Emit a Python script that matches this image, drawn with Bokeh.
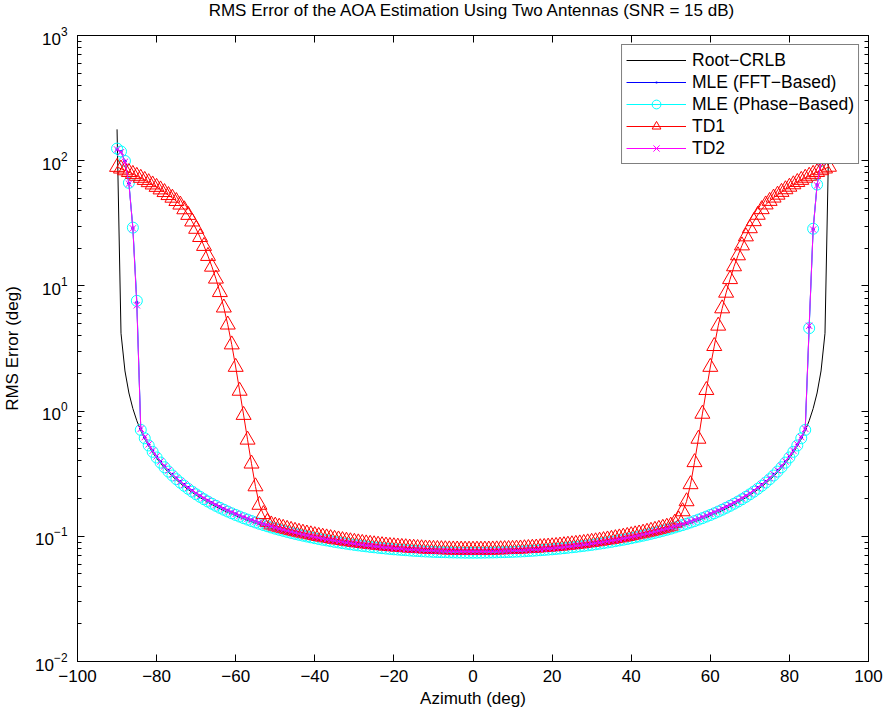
from bokeh.plotting import figure
from bokeh.models import (Range1d, LinearAxis, LogAxis, FixedTicker,
                          CustomJSTickFormatter, LogTickFormatter)
from bokeh.embed import file_html
from bokeh.resources import INLINE

FONT = "Liberation Sans"
TITLE = "RMS Error of the AOA Estimation Using Two Antennas (SNR = 15 dB)"

azimuth = list(range(-90, 91))
x_ticks = [-100, -80, -60, -40, -20, 0, 20, 40, 60, 80, 100]
y_major = [1e-2, 1e-1, 1e0, 1e1, 1e2, 1e3]
y_minor = [m * d for d in [1e-2, 1e-1, 1e0, 1e1, 1e2] for m in range(2, 10)]

root_crlb = [
    178.0, 4.183, 2.092, 1.395, 1.047, 0.8376, 0.6984, 0.5990, 0.5245, 0.4667,
    0.4204, 0.3826, 0.3511, 0.3245, 0.3018, 0.2821, 0.2648, 0.2497, 0.2362, 0.2242,
    0.2134, 0.2037, 0.1949, 0.1868, 0.1795, 0.1727, 0.1665, 0.1608, 0.1555, 0.1506,
    0.1460, 0.1417, 0.1378, 0.1340, 0.1305, 0.1273, 0.1242, 0.1213, 0.1186, 0.1160,
    0.1136, 0.1113, 0.1091, 0.1070, 0.1051, 0.1032, 0.1015, 0.0998, 0.0982, 0.0967,
    0.0953, 0.0939, 0.0926, 0.0914, 0.0902, 0.0891, 0.0881, 0.0870, 0.0861, 0.0852,
    0.0843, 0.0835, 0.0827, 0.0819, 0.0812, 0.0805, 0.0799, 0.0793, 0.0787, 0.0782,
    0.0777, 0.0772, 0.0768, 0.0763, 0.0759, 0.0756, 0.0752, 0.0749, 0.0746, 0.0744,
    0.0741, 0.0739, 0.0737, 0.0735, 0.0734, 0.0733, 0.0732, 0.0731, 0.0730, 0.0730,
    0.0730, 0.0730, 0.0730, 0.0731, 0.0732, 0.0733, 0.0734, 0.0735, 0.0737, 0.0739,
    0.0741, 0.0744, 0.0746, 0.0749, 0.0752, 0.0756, 0.0759, 0.0763, 0.0768, 0.0772,
    0.0777, 0.0782, 0.0787, 0.0793, 0.0799, 0.0805, 0.0812, 0.0819, 0.0827, 0.0835,
    0.0843, 0.0852, 0.0861, 0.0870, 0.0881, 0.0891, 0.0902, 0.0914, 0.0926, 0.0939,
    0.0953, 0.0967, 0.0982, 0.0998, 0.1015, 0.1032, 0.1051, 0.1070, 0.1091, 0.1113,
    0.1136, 0.1160, 0.1186, 0.1213, 0.1242, 0.1273, 0.1305, 0.1340, 0.1378, 0.1417,
    0.1460, 0.1506, 0.1555, 0.1608, 0.1665, 0.1727, 0.1795, 0.1868, 0.1949, 0.2037,
    0.2134, 0.2242, 0.2362, 0.2497, 0.2648, 0.2821, 0.3018, 0.3245, 0.3511, 0.3826,
    0.4204, 0.4667, 0.5245, 0.5990, 0.6984, 0.8376, 1.047, 1.395, 2.092, 4.183,
    178.0,
]

mle_fft = [
    124.0, 118.0, 99.0, 66.0, 29.0, 7.4, 0.7223, 0.6195, 0.5425, 0.4826,
    0.4348, 0.3957, 0.3631, 0.3356, 0.3121, 0.2917, 0.2739, 0.2582, 0.2443, 0.2319,
    0.2207, 0.2107, 0.2015, 0.1932, 0.1856, 0.1786, 0.1722, 0.1663, 0.1608, 0.1557,
    0.1510, 0.1466, 0.1425, 0.1386, 0.1350, 0.1316, 0.1284, 0.1255, 0.1226, 0.1200,
    0.1175, 0.1151, 0.1128, 0.1107, 0.1087, 0.1068, 0.1050, 0.1032, 0.1016, 0.1000,
    0.0986, 0.0972, 0.0958, 0.0945, 0.0933, 0.0922, 0.0911, 0.0900, 0.0890, 0.0881,
    0.0872, 0.0863, 0.0855, 0.0847, 0.0840, 0.0833, 0.0826, 0.0820, 0.0814, 0.0809,
    0.0803, 0.0798, 0.0794, 0.0789, 0.0785, 0.0782, 0.0778, 0.0775, 0.0772, 0.0769,
    0.0767, 0.0764, 0.0762, 0.0761, 0.0759, 0.0758, 0.0757, 0.0756, 0.0755, 0.0755,
    0.0755, 0.0755, 0.0755, 0.0756, 0.0757, 0.0758, 0.0759, 0.0761, 0.0762, 0.0764,
    0.0767, 0.0769, 0.0772, 0.0775, 0.0778, 0.0782, 0.0785, 0.0789, 0.0794, 0.0798,
    0.0803, 0.0809, 0.0814, 0.0820, 0.0826, 0.0833, 0.0840, 0.0847, 0.0855, 0.0863,
    0.0872, 0.0881, 0.0890, 0.0900, 0.0911, 0.0922, 0.0933, 0.0945, 0.0958, 0.0972,
    0.0986, 0.1000, 0.1016, 0.1032, 0.1050, 0.1068, 0.1087, 0.1107, 0.1128, 0.1151,
    0.1175, 0.1200, 0.1226, 0.1255, 0.1284, 0.1316, 0.1350, 0.1386, 0.1425, 0.1466,
    0.1510, 0.1557, 0.1608, 0.1663, 0.1722, 0.1786, 0.1856, 0.1932, 0.2015, 0.2107,
    0.2207, 0.2319, 0.2443, 0.2582, 0.2739, 0.2917, 0.3121, 0.3356, 0.3631, 0.3957,
    0.4348, 0.4826, 0.5425, 0.6195, 0.7223, 4.7, 28.4, 64.0, 99.0, 116.0,
    122.0,
]

mle_phase = [
    125.0, 118.5, 99.5, 66.5, 29.2, 7.6, 0.7079, 0.6072, 0.5317, 0.4730,
    0.4262, 0.3878, 0.3559, 0.3290, 0.3059, 0.2859, 0.2685, 0.2531, 0.2395, 0.2273,
    0.2164, 0.2065, 0.1975, 0.1894, 0.1819, 0.1751, 0.1688, 0.1630, 0.1576, 0.1526,
    0.1480, 0.1437, 0.1396, 0.1359, 0.1323, 0.1290, 0.1259, 0.1230, 0.1202, 0.1176,
    0.1151, 0.1128, 0.1106, 0.1085, 0.1065, 0.1047, 0.1029, 0.1012, 0.0996, 0.0981,
    0.0966, 0.0952, 0.0939, 0.0927, 0.0915, 0.0903, 0.0893, 0.0882, 0.0873, 0.0863,
    0.0854, 0.0846, 0.0838, 0.0831, 0.0823, 0.0817, 0.0810, 0.0804, 0.0798, 0.0793,
    0.0787, 0.0783, 0.0778, 0.0774, 0.0770, 0.0766, 0.0763, 0.0759, 0.0756, 0.0754,
    0.0751, 0.0749, 0.0747, 0.0746, 0.0744, 0.0743, 0.0742, 0.0741, 0.0740, 0.0740,
    0.0740, 0.0740, 0.0740, 0.0741, 0.0742, 0.0743, 0.0744, 0.0746, 0.0747, 0.0749,
    0.0751, 0.0754, 0.0756, 0.0759, 0.0763, 0.0766, 0.0770, 0.0774, 0.0778, 0.0783,
    0.0787, 0.0793, 0.0798, 0.0804, 0.0810, 0.0817, 0.0823, 0.0831, 0.0838, 0.0846,
    0.0854, 0.0863, 0.0873, 0.0882, 0.0893, 0.0903, 0.0915, 0.0927, 0.0939, 0.0952,
    0.0966, 0.0981, 0.0996, 0.1012, 0.1029, 0.1047, 0.1065, 0.1085, 0.1106, 0.1128,
    0.1151, 0.1176, 0.1202, 0.1230, 0.1259, 0.1290, 0.1323, 0.1359, 0.1396, 0.1437,
    0.1480, 0.1526, 0.1576, 0.1630, 0.1688, 0.1751, 0.1819, 0.1894, 0.1975, 0.2065,
    0.2164, 0.2273, 0.2395, 0.2531, 0.2685, 0.2859, 0.3059, 0.3290, 0.3559, 0.3878,
    0.4262, 0.4730, 0.5317, 0.6072, 0.7079, 4.6, 28.6, 64.5, 99.5, 117.0,
    123.0,
]

td1 = [
    89.0, 86.3, 83.6, 81.0, 78.2, 75.5, 72.8, 70.0, 67.2, 64.4,
    61.6, 58.8, 56.0, 53.0, 50.5, 47.5, 44.5, 40.8, 36.8, 32.6,
    28.5, 24.5, 20.8, 17.3, 14.2, 11.4, 8.9, 6.7, 4.9, 3.4,
    2.25, 1.45, 0.93, 0.59, 0.38, 0.25, 0.178, 0.150, 0.130, 0.124,
    0.1213, 0.1189, 0.1166, 0.1144, 0.1123, 0.1103, 0.1084, 0.1066, 0.1050, 0.1034,
    0.1018, 0.1004, 0.0990, 0.0977, 0.0964, 0.0952, 0.0941, 0.0930, 0.0920, 0.0910,
    0.0901, 0.0892, 0.0883, 0.0875, 0.0868, 0.0861, 0.0854, 0.0847, 0.0841, 0.0835,
    0.0830, 0.0825, 0.0820, 0.0816, 0.0811, 0.0808, 0.0804, 0.0801, 0.0797, 0.0795,
    0.0792, 0.0790, 0.0788, 0.0786, 0.0784, 0.0783, 0.0782, 0.0781, 0.0780, 0.0780,
    0.0780, 0.0780, 0.0780, 0.0781, 0.0782, 0.0783, 0.0784, 0.0786, 0.0788, 0.0790,
    0.0792, 0.0795, 0.0797, 0.0801, 0.0804, 0.0808, 0.0811, 0.0816, 0.0820, 0.0825,
    0.0830, 0.0835, 0.0841, 0.0847, 0.0854, 0.0861, 0.0868, 0.0875, 0.0883, 0.0892,
    0.0901, 0.0910, 0.0920, 0.0930, 0.0941, 0.0952, 0.0964, 0.0977, 0.0990, 0.1004,
    0.1018, 0.1034, 0.1050, 0.1066, 0.1084, 0.1103, 0.1123, 0.1144, 0.1166, 0.1189,
    0.1213, 0.128, 0.136, 0.158, 0.19, 0.26, 0.39, 0.60, 0.95, 1.47,
    2.25, 3.3, 4.8, 6.6, 8.8, 11.3, 14.3, 17.5, 21.0, 24.8,
    28.8, 32.8, 36.9, 40.9, 44.6, 47.6, 50.6, 53.4, 56.2, 59.0,
    61.8, 64.6, 67.4, 70.1, 72.9, 75.6, 78.3, 81.0, 83.7, 86.4,
    89.2,
]

td2 = [
    123.0, 117.0, 98.0, 65.5, 28.8, 7.0, 0.7223, 0.6195, 0.5425, 0.4826,
    0.4348, 0.3957, 0.3631, 0.3356, 0.3121, 0.2917, 0.2739, 0.2582, 0.2443, 0.2319,
    0.2207, 0.2107, 0.2015, 0.1932, 0.1856, 0.1786, 0.1722, 0.1663, 0.1608, 0.1557,
    0.1510, 0.1466, 0.1425, 0.1386, 0.1350, 0.1316, 0.1284, 0.1255, 0.1226, 0.1200,
    0.1175, 0.1151, 0.1128, 0.1107, 0.1087, 0.1068, 0.1050, 0.1032, 0.1016, 0.1000,
    0.0986, 0.0972, 0.0958, 0.0945, 0.0933, 0.0922, 0.0911, 0.0900, 0.0890, 0.0881,
    0.0872, 0.0863, 0.0855, 0.0847, 0.0840, 0.0833, 0.0826, 0.0820, 0.0814, 0.0809,
    0.0803, 0.0798, 0.0794, 0.0789, 0.0785, 0.0782, 0.0778, 0.0775, 0.0772, 0.0769,
    0.0767, 0.0764, 0.0762, 0.0761, 0.0759, 0.0758, 0.0757, 0.0756, 0.0755, 0.0755,
    0.0755, 0.0755, 0.0755, 0.0756, 0.0757, 0.0758, 0.0759, 0.0761, 0.0762, 0.0764,
    0.0767, 0.0769, 0.0772, 0.0775, 0.0778, 0.0782, 0.0785, 0.0789, 0.0794, 0.0798,
    0.0803, 0.0809, 0.0814, 0.0820, 0.0826, 0.0833, 0.0840, 0.0847, 0.0855, 0.0863,
    0.0872, 0.0881, 0.0890, 0.0900, 0.0911, 0.0922, 0.0933, 0.0945, 0.0958, 0.0972,
    0.0986, 0.1000, 0.1016, 0.1032, 0.1050, 0.1068, 0.1087, 0.1107, 0.1128, 0.1151,
    0.1175, 0.1200, 0.1226, 0.1255, 0.1284, 0.1316, 0.1350, 0.1386, 0.1425, 0.1466,
    0.1510, 0.1557, 0.1608, 0.1663, 0.1722, 0.1786, 0.1856, 0.1932, 0.2015, 0.2107,
    0.2207, 0.2319, 0.2443, 0.2582, 0.2739, 0.2917, 0.3121, 0.3356, 0.3631, 0.3957,
    0.4348, 0.4826, 0.5425, 0.6195, 0.7223, 4.8, 28.2, 63.5, 98.5, 116.0,
    122.0,
]

for name, s in [("root_crlb", root_crlb), ("mle_fft", mle_fft), ("mle_phase", mle_phase),
                ("td1", td1), ("td2", td2)]:
    if len(s) != len(azimuth):
        raise SystemExit(f"{name} has {len(s)} values")

# canvas is 5 px taller than the window and shifted up by 5 px, so the
# frame still runs from y=35 to y=661 while the title sits higher
p = figure(width=885, height=716, x_range=Range1d(-100, 100), y_range=Range1d(1e-2, 1e3),
           y_axis_type="log", output_backend="svg", toolbar_location=None,
           min_border_left=75, min_border_right=17, min_border_top=40, min_border_bottom=50,
           margin=(-5, 0, 0, 0))
p.background_fill_color = "white"
p.border_fill_color = "white"
p.outline_line_color = "black"
p.outline_line_width = 1
p.xgrid.visible = False
p.ygrid.visible = False
p.title.text = ""

minus_fmt = CustomJSTickFormatter(code="return tick < 0 ? '\\u2212' + (-tick) : '' + tick;")
blank_fmt = CustomJSTickFormatter(code="return '';")


def style_axis(ax, minor=True):
    ax.axis_line_color = "black"
    ax.major_tick_line_color = "black"
    ax.minor_tick_line_color = "black"
    ax.major_tick_in = 7
    ax.major_tick_out = 0
    ax.minor_tick_in = 4 if minor else 0
    ax.minor_tick_out = 0
    ax.major_label_text_font = FONT
    ax.major_label_text_font_size = "17px"
    ax.major_label_text_color = "black"
    ax.axis_label_text_font = FONT
    ax.axis_label_text_font_size = "17px"
    ax.axis_label_text_font_style = "normal"
    ax.axis_label_text_color = "black"


xa = p.xaxis[0]
xa.ticker = FixedTicker(ticks=x_ticks)
xa.formatter = minus_fmt
xa.axis_label = "Azimuth (deg)"
style_axis(xa, minor=False)
xa.major_label_standoff = 8
xa.axis_label_standoff = 4

ya = p.yaxis[0]
ya.ticker = FixedTicker(ticks=y_major, minor_ticks=y_minor)
ya.formatter = LogTickFormatter()
ya.axis_label = "RMS Error (deg)"
style_axis(ya)
ya.major_label_standoff = 10
ya.axis_label_standoff = 10

# top box edge; its label carries the chart title
top = LinearAxis(ticker=FixedTicker(ticks=x_ticks), formatter=blank_fmt, axis_label=TITLE)
style_axis(top, minor=False)
top.major_label_text_font_size = "1px"
top.major_label_standoff = 0
top.axis_label_standoff = 16
p.add_layout(top, "above")

right = LogAxis(ticker=FixedTicker(ticks=y_major, minor_ticks=y_minor), formatter=blank_fmt)
style_axis(right)
right.major_label_text_font_size = "1px"
right.major_label_standoff = 0
p.add_layout(right, "right")

# series
p.line(azimuth, root_crlb, line_color="black", line_width=1, legend_label="Root\u2212CRLB")

p.line(azimuth, mle_fft, line_color="#0000ff", line_width=1, legend_label="MLE (FFT\u2212Based)")
p.scatter(azimuth, mle_fft, marker="dot", size=13, line_color="#0000ff", fill_color="#0000ff",
          legend_label="MLE (FFT\u2212Based)")

p.line(azimuth, mle_phase, line_color="#00ffff", line_width=1, legend_label="MLE (Phase\u2212Based)")
p.scatter(azimuth, mle_phase, marker="circle", size=11, fill_color=None, line_color="#00ffff",
          line_width=1, legend_label="MLE (Phase\u2212Based)")

p.line(azimuth, td1, line_color="#ff0000", line_width=1, legend_label="TD1")
p.scatter(azimuth, td1, marker="triangle", size=15, fill_color=None, line_color="#ff0000",
          line_width=1, legend_label="TD1")

p.line(azimuth, td2, line_color="#ff00ff", line_width=1, legend_label="TD2")
p.scatter(azimuth, td2, marker="x", size=9, line_color="#ff00ff", line_width=1, legend_label="TD2")

lg = p.legend[0]
lg.location = "top_right"
lg.margin = 9
lg.padding = 4
lg.spacing = 0
lg.glyph_width = 60
lg.glyph_height = 22
lg.label_height = 22
lg.label_standoff = 6
lg.label_text_font = FONT
lg.label_text_font_size = "17.5px"
lg.label_text_color = "black"
lg.border_line_color = "black"
lg.border_line_width = 1
lg.background_fill_color = "white"
lg.background_fill_alpha = 1.0

open("out.html", "w").write(file_html(p, INLINE))
